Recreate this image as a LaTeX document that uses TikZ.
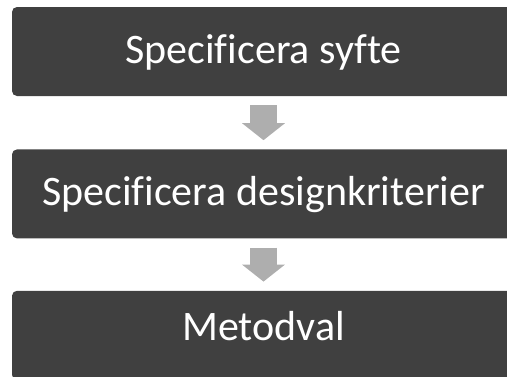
\documentclass[tikz,border=0pt]{standalone}
\usepackage{fontspec}
\setmainfont{Carlito}[Ligatures=NoCommon]
\usetikzlibrary{arrows.meta,
positioning}
\definecolor{boxgray}{HTML}{404040}
\definecolor{arrowgray}{HTML}{AEAEAE}

\begin{document}
\begin{tikzpicture} [x=1pt,
    y=-1pt,
    stage node/.style={rectangle, rounded corners=5pt, fill = boxgray,
        text = white, align=center, inner sep=0pt,
        minimum width = 503pt, minimum height = 89pt,
        text height = 30pt, text depth = 7pt,
        font=\fontsize{42}{48}\selectfont},
    flow arrow/.style={arrowgray, line width=27pt,
        shorten <=9pt, shorten >=9pt,
        -{Triangle[width=42pt, length=17pt]}}
  ]

  \useasboundingbox (0, 0) rectangle (507, 376);
  \clip (0, 0) rectangle (507, 376);

  \node [stage node] (syfte) at (263.5, 51.5) {Specificera syfte};

  \node [stage node,
    below = 53pt of syfte
  ] (kriterier) {Specificera designkriterier};

  \node [stage node,
    text depth = 19pt,
    below = 52pt of kriterier
  ] (metod) {Metodval};

  %%%%%%%%%%%%%%%%%%%%%%%%%%%%%%

  \draw [flow arrow] (syfte.south) -- (kriterier.north);
  \draw [flow arrow] (kriterier.south) -- (metod.north);

\end{tikzpicture}
\end{document}
